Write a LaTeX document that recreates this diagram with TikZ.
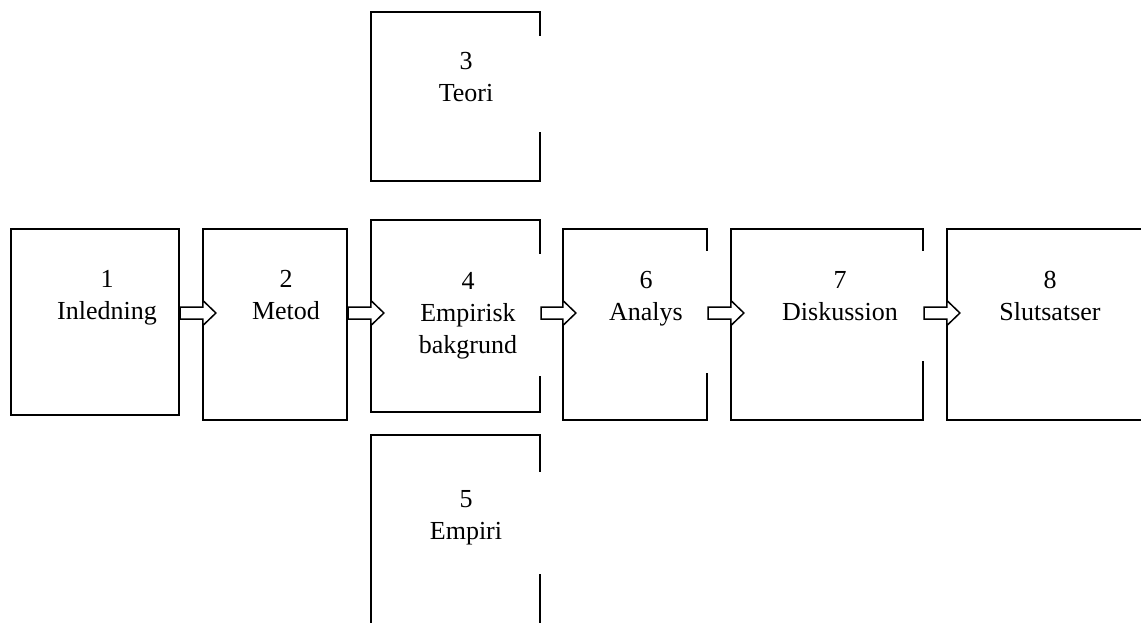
\documentclass[tikz,border=0pt]{standalone}
\usepackage{fontspec}
\setmainfont{Liberation Serif}
\usetikzlibrary{calc}

% block arrow from the east side of one box into the next box
\newcommand{\flowarrow}[2]{%
  \draw[flowarrow] (#1.east |- axis) ++(0,-6) -- ($(#2.west |- axis)+(1,-6)$) -- ++(0,-6.5)
    -- ($(#2.west |- axis)+(14,0)$) -- ($(#2.west |- axis)+(1,12.5)$) -- ++(0,-6.5)
    -- ($(#1.east |- axis)+(0,6)$) -- cycle;}

\begin{document}
\begin{tikzpicture}
[x=1pt,y=-1pt,
 box/.style={draw,line width=2.2pt,inner sep=0pt},
 boxtext/.style={anchor=base,align=center,inner sep=0pt,font=\fontsize{26}{32}\selectfont},
 flowarrow/.style={draw,fill=white,line width=1.5pt,line join=miter}]

\useasboundingbox (0,0) rectangle (1141,623);

% the middle line of the arrows
\coordinate (axis) at (0,313);

% the boxes
\node[box,minimum width=168pt,minimum height=186pt] (b1) at (95,322) {};
\node[box,minimum width=144pt,minimum height=191pt] (b2) at (275,324.5) {};
\node[box,minimum width=169pt,minimum height=169pt] (b3) at (455.5,96.5) {};
\node[box,minimum width=169pt,minimum height=192pt] (b4) at (455.5,316) {};
\node[box,minimum width=169pt,minimum height=225pt] (b5) at (455.5,547.5) {};
\node[box,minimum width=144pt,minimum height=191pt] (b6) at (635,324.5) {};
\node[box,minimum width=192pt,minimum height=191pt] (b7) at (827,324.5) {};
\node[box,minimum width=200pt,minimum height=191pt] (b8) at (1047,324.5) {};

% white gaps in the right sides
\fill[white] ($(b3.north east)+(-2,25)$) rectangle ($(b3.north east)+(2,121)$);
\fill[white] ($(b4.north east)+(-2,35)$) rectangle ($(b4.north east)+(2,157)$);
\fill[white] ($(b5.north east)+(-2,38)$) rectangle ($(b5.north east)+(2,140)$);
\fill[white] ($(b6.north east)+(-2,23)$) rectangle ($(b6.north east)+(2,145)$);
\fill[white] ($(b7.north east)+(-2,23)$) rectangle ($(b7.north east)+(2,133)$);

% the texts (at the baseline of the last line)
\node[boxtext] (t1) at (107,319) {1\\Inledning};
\node[boxtext] (t2) at (286,319) {2\\Metod};
\node[boxtext] (t3) at (466,102) {3\\Teori};
\node[boxtext] (t4) at (468,353) {4\\Empirisk\\bakgrund};
\node[boxtext] (t5) at (466,539) {5\\Empiri};
\node[boxtext] (t6) at (646,320) {6\\Analys};
\node[boxtext] (t7) at (840,320) {7\\Diskussion};
\node[boxtext] (t8) at (1050,320) {8\\Slutsatser};

% the arrows
\flowarrow{b1}{b2}
\flowarrow{b2}{b4}
\flowarrow{b4}{b6}
\flowarrow{b6}{b7}
\flowarrow{b7}{b8}

\end{tikzpicture}
\end{document}
